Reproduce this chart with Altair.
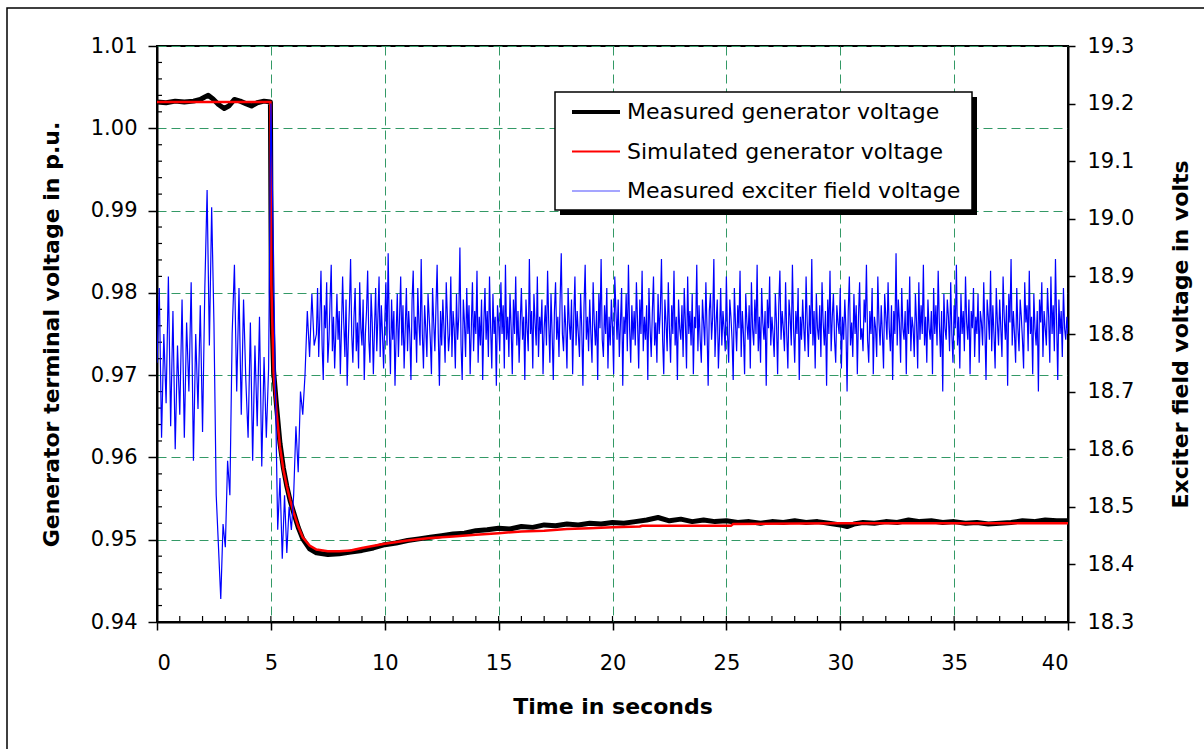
import altair as alt
import pandas as pd

# ---------------- data ----------------
# Measured generator terminal voltage (p.u.)
meas_t = [0, 0.4, 0.8, 1.2, 1.6, 1.9, 2.1, 2.25, 2.45, 2.7, 2.95, 3.15, 3.4, 3.65, 3.9, 4.15, 4.4, 4.7, 4.98,
          5.02, 5.12, 5.25, 5.4, 5.55, 5.7, 5.85, 6.0, 6.2, 6.4, 6.7,
          7.0, 7.5, 8.0, 8.5, 9.0, 9.5, 10.0, 10.5, 11.0, 11.5, 12.0, 12.5, 13.0, 13.5, 14.0, 14.5,
          15.0, 15.5, 16.0, 16.5, 17.0, 17.5, 18.0, 18.5, 19.0, 19.5, 20.0, 20.5, 21.0, 21.5, 22.0,
          22.5, 23.0, 23.5, 24.0, 24.5, 25.0, 25.5, 26.0, 26.5, 27.0, 27.5, 28.0, 28.5, 29.0, 29.5,
          30.0, 30.3, 30.6, 31.0, 31.5, 32.0, 32.5, 33.0, 33.5, 34.0, 34.5, 35.0, 35.5, 36.0, 36.5,
          37.0, 37.5, 38.0, 38.5, 39.0, 39.5, 40.0]
meas_v = [1.0032, 1.0031, 1.0033, 1.0032, 1.0033, 1.0035, 1.0038, 1.0040, 1.0036, 1.0029, 1.0024, 1.0027,
          1.0035, 1.0033, 1.0030, 1.0027, 1.0031, 1.0033, 1.0032,
          0.9800, 0.9705, 0.9662, 0.9617, 0.9587, 0.9565, 0.9547, 0.9533, 0.9515, 0.9501, 0.9489,
          0.9484, 0.9482, 0.9483, 0.9485, 0.9487, 0.9490, 0.9494, 0.9496, 0.9499, 0.9501, 0.9503, 0.9505,
          0.9507, 0.9508, 0.9511, 0.9512, 0.9514, 0.9513, 0.9516, 0.9515, 0.9518, 0.9517, 0.9519, 0.9518,
          0.9520, 0.9519, 0.9521, 0.9520, 0.9522, 0.9524, 0.9527, 0.9523, 0.9525, 0.9522, 0.9524, 0.9522,
          0.9523, 0.9521, 0.9522, 0.9520, 0.9522, 0.9521, 0.9523, 0.9521, 0.9522, 0.9520, 0.9518, 0.9516,
          0.9519, 0.9521, 0.9520, 0.9522, 0.9521, 0.9524, 0.9522, 0.9523, 0.9521, 0.9522, 0.9520, 0.9521,
          0.9519, 0.9520, 0.9521, 0.9523, 0.9522, 0.9524, 0.9523, 0.9523]

# Simulated generator terminal voltage (p.u.)
sim_t = [0, 4.98, 5.02, 5.12, 5.25, 5.4, 5.55, 5.7, 5.85, 6.0, 6.2, 6.4, 6.7, 7.0, 7.5, 8.0, 8.5, 9.0,
         10.0, 11.0, 12.0, 13.0, 14.0, 15.0, 16.0, 17.0, 18.0, 19.0, 20.0, 21.2, 21.3, 25.2, 25.3,
         30.0, 35.0, 40.0]
sim_v = [1.0032, 1.0032, 0.9810, 0.9703, 0.9655, 0.9613, 0.9585, 0.9565, 0.9548, 0.9533, 0.9516, 0.9503,
         0.9493, 0.9488, 0.9486, 0.9486, 0.9487, 0.9490, 0.9495, 0.9499, 0.9502, 0.9504, 0.9506, 0.9508,
         0.9510, 0.9511, 0.9513, 0.9514, 0.9515, 0.9516, 0.9517, 0.9517, 0.9519, 0.9520, 0.9520, 0.9520]

# Measured exciter field voltage (V): every 0.1 s from 0 to 6.9 s ...
EXC_EARLY_START, EXC_EARLY_DT = 0.0, 0.1
exc_early = [
    18.75, 18.88, 18.62, 18.80, 18.68, 18.90, 18.64, 18.84, 18.60, 18.78,
    18.66, 18.86, 18.62, 18.82, 18.70, 18.89, 18.58, 18.80, 18.67, 18.85,
    18.63, 18.88, 19.05, 18.78, 19.02, 18.82, 18.52, 18.43, 18.34, 18.47,
    18.43, 18.58, 18.52, 18.80, 18.92, 18.70, 18.88, 18.66, 18.86, 18.72,
    18.62, 18.82, 18.58, 18.78, 18.64, 18.83, 18.57, 18.76, 18.62, 18.74,
    19.20, 18.98, 18.70, 18.46, 18.55, 18.41, 18.52, 18.42, 18.50, 18.46,
    18.52, 18.64, 18.56, 18.70, 18.66, 18.73, 18.84, 18.76, 18.87, 18.78,
]
# ... and every 0.05 s from 7.0 to 40.0 s
EXC_LATE_START, EXC_LATE_DT = 7.0, 0.05
exc_late = [
    18.80, 18.88, 18.76, 18.83, 18.91, 18.78, 18.72, 18.85, 18.81, 18.89, 18.75, 18.79, 18.86, 18.92, 18.77, 18.83, 18.74, 18.80, 18.87, 18.79,
    18.84, 18.73, 18.81, 18.90, 18.82, 18.76, 18.86, 18.71, 18.79, 18.85, 18.93, 18.80, 18.75, 18.83, 18.88, 18.77, 18.82, 18.74, 18.89, 18.81,
    18.78, 18.86, 18.72, 18.80, 18.84, 18.91, 18.79, 18.75, 18.87, 18.82, 18.73, 18.81, 18.88, 18.77, 18.83, 18.90, 18.76, 18.85, 18.80, 18.74,
    18.82, 18.89, 18.78, 18.94, 18.81, 18.73, 18.86, 18.79, 18.84, 18.71, 18.80, 18.87, 18.76, 18.83, 18.90, 18.78, 18.85, 18.74, 18.81, 18.88,
    18.77, 18.84, 18.80, 18.72, 18.86, 18.91, 18.79, 18.83, 18.75, 18.88, 18.82, 18.78, 18.93, 18.80, 18.74, 18.85, 18.81, 18.76, 18.87, 18.83,
    18.79, 18.73, 18.88, 18.82, 18.77, 18.85, 18.92, 18.80, 18.71, 18.84, 18.78, 18.86, 18.81, 18.75, 18.89, 18.83, 18.77, 18.80, 18.90, 18.76,
    18.84, 18.81, 18.74, 18.87, 18.79, 18.83, 18.95, 18.78, 18.72, 18.86, 18.82, 18.76, 18.88, 18.80, 18.85, 18.73, 18.81, 18.89, 18.77, 18.84,
    18.80, 18.91, 18.75, 18.83, 18.78, 18.86, 18.72, 18.82, 18.88, 18.79, 18.84, 18.76, 18.90, 18.81, 18.74, 18.87, 18.80, 18.83, 18.71, 18.85,
    18.82, 18.77, 18.89, 18.80, 18.85, 18.74, 18.92, 18.79, 18.83, 18.76, 18.87, 18.81, 18.73, 18.86, 18.80, 18.90, 18.78, 18.84, 18.75, 18.82,
    18.88, 18.79, 18.83, 18.72, 18.86, 18.81, 18.77, 18.93, 18.80, 18.84, 18.74, 18.87, 18.82, 18.78, 18.90, 18.76, 18.83, 18.80, 18.86, 18.73,
    18.81, 18.85, 18.78, 18.91, 18.82, 18.75, 18.87, 18.80, 18.72, 18.84, 18.89, 18.79, 18.83, 18.76, 18.86, 18.94, 18.80, 18.77, 18.85, 18.81,
    18.74, 18.88, 18.82, 18.79, 18.86, 18.73, 18.83, 18.90, 18.78, 18.84, 18.80, 18.76, 18.87, 18.81, 18.71, 18.85, 18.92, 18.79, 18.83, 18.77,
    18.86, 18.80, 18.75, 18.89, 18.82, 18.78, 18.84, 18.72, 18.87, 18.81, 18.93, 18.79, 18.76, 18.85, 18.80, 18.88, 18.74, 18.83, 18.78, 18.86,
    18.81, 18.73, 18.90, 18.84, 18.79, 18.86, 18.76, 18.82, 18.88, 18.71, 18.83, 18.80, 18.87, 18.77, 18.92, 18.81, 18.75, 18.85, 18.79, 18.84,
    18.78, 18.89, 18.82, 18.74, 18.86, 18.80, 18.91, 18.77, 18.83, 18.79, 18.85, 18.72, 18.88, 18.81, 18.76, 18.84, 18.90, 18.78, 18.82, 18.75,
    18.87, 18.80, 18.84, 18.93, 18.79, 18.73, 18.86, 18.82, 18.77, 18.89, 18.81, 18.75, 18.85, 18.80, 18.91, 18.78, 18.83, 18.72, 18.86, 18.81,
    18.79, 18.85, 18.76, 18.88, 18.82, 18.74, 18.90, 18.80, 18.84, 18.78, 18.87, 18.73, 18.83, 18.81, 18.92, 18.77, 18.85, 18.79, 18.75, 18.86,
    18.82, 18.78, 18.89, 18.81, 18.71, 18.84, 18.87, 18.79, 18.83, 18.93, 18.76, 18.82, 18.86, 18.74, 18.80, 18.88, 18.78, 18.84, 18.81, 18.77,
    18.90, 18.80, 18.75, 18.86, 18.83, 18.79, 18.72, 18.88, 18.82, 18.77, 18.85, 18.81, 18.91, 18.76, 18.84, 18.80, 18.73, 18.87, 18.82, 18.79,
    18.85, 18.74, 18.89, 18.81, 18.78, 18.86, 18.80, 18.92, 18.77, 18.83, 18.75, 18.88, 18.82, 18.79, 18.84, 18.71, 18.86, 18.81, 18.90, 18.78,
    18.83, 18.80, 18.76, 18.87, 18.82, 18.73, 18.85, 18.91, 18.79, 18.84, 18.81, 18.77, 18.89, 18.80, 18.74, 18.86, 18.83, 18.78, 18.92, 18.81,
    18.75, 18.84, 18.80, 18.88, 18.72, 18.83, 18.79, 18.86, 18.81, 18.77, 18.90, 18.82, 18.76, 18.85, 18.80, 18.93, 18.78, 18.84, 18.74, 18.87,
    18.81, 18.79, 18.85, 18.76, 18.89, 18.82, 18.78, 18.84, 18.71, 18.86, 18.80, 18.91, 18.77, 18.83, 18.87, 18.79, 18.75, 18.85, 18.82, 18.80,
    18.88, 18.74, 18.83, 18.79, 18.86, 18.81, 18.70, 18.84, 18.90, 18.78, 18.82, 18.76, 18.87, 18.80, 18.85, 18.73, 18.83, 18.89, 18.79, 18.81,
    18.77, 18.86, 18.82, 18.92, 18.79, 18.75, 18.84, 18.80, 18.88, 18.73, 18.83, 18.81, 18.76, 18.90, 18.82, 18.78, 18.85, 18.80, 18.74, 18.87,
    18.83, 18.79, 18.89, 18.81, 18.77, 18.85, 18.72, 18.84, 18.80, 18.94, 18.78, 18.86, 18.82, 18.75, 18.88, 18.81, 18.79, 18.84, 18.73, 18.86,
    18.80, 18.90, 18.77, 18.83, 18.81, 18.76, 18.87, 18.82, 18.74, 18.89, 18.79, 18.85, 18.80, 18.92, 18.78, 18.83, 18.75, 18.86, 18.81, 18.79,
    18.84, 18.73, 18.88, 18.80, 18.85, 18.78, 18.91, 18.82, 18.76, 18.84, 18.70, 18.87, 18.81, 18.79, 18.86, 18.83, 18.77, 18.89, 18.80, 18.75,
    18.85, 18.81, 18.92, 18.78, 18.83, 18.74, 18.87, 18.80, 18.84, 18.77, 18.90, 18.82, 18.79, 18.86, 18.73, 18.84, 18.81, 18.88, 18.76, 18.83,
    18.80, 18.87, 18.75, 18.84, 18.82, 18.78, 18.89, 18.81, 18.72, 18.86, 18.83, 18.79, 18.91, 18.77, 18.85, 18.80, 18.74, 18.88, 18.82, 18.78,
    18.86, 18.81, 18.76, 18.90, 18.83, 18.79, 18.85, 18.71, 18.87, 18.82, 18.93, 18.78, 18.84, 18.80, 18.75, 18.88, 18.81, 18.77, 18.86, 18.83,
    18.79, 18.74, 18.89, 18.82, 18.85, 18.77, 18.91, 18.80, 18.83, 18.73, 18.87, 18.81, 18.78, 18.84, 18.70, 18.86, 18.82, 18.89, 18.76, 18.84,
    18.81, 18.78, 18.88, 18.83, 18.75, 18.90, 18.80, 18.85, 18.77, 18.93, 18.82, 18.72, 18.86, 18.80, 18.84, 18.76, 18.88, 18.81, 18.79, 18.83,
    18.80,
]

x_ticks = [0, 5, 10, 15, 20, 25, 30, 35, 40]
left_ticks = [0.94, 0.95, 0.96, 0.97, 0.98, 0.99, 1.00, 1.01]
right_ticks = [18.3, 18.4, 18.5, 18.6, 18.7, 18.8, 18.9, 19.0, 19.1, 19.2, 19.3]
left_minor = [round(0.94 + 0.002 * i, 3) for i in range(36) if i % 5 != 0]
x_minor = list(range(0, 41))

legend_labels = ["Measured generator voltage", "Simulated generator voltage", "Measured exciter field voltage"]
legend_colors = ["#000000", "#ff0000", "#4d4dff"]
legend_widths = [4, 2, 1.2]

# ---------------- frames ----------------
df_meas = pd.DataFrame({"t": meas_t, "v": meas_v})
df_sim = pd.DataFrame({"t": sim_t, "v": sim_v})
exc_t = ([round(EXC_EARLY_START + i * EXC_EARLY_DT, 3) for i in range(len(exc_early))] +
         [round(EXC_LATE_START + i * EXC_LATE_DT, 3) for i in range(len(exc_late))])
df_exc = pd.DataFrame({"t": exc_t, "e": exc_early + exc_late})
df_lminor = pd.DataFrame({"v": left_minor})
df_xminor = pd.DataFrame({"t": x_minor})
one = pd.DataFrame({"k": [0]})

FONT = "DejaVu Sans"
GRID = "#339966"
W, H = 911, 576

x_axis = alt.Axis(values=x_ticks, format="d", title="Time in seconds", grid=True,
                  gridColor=GRID, gridDash=[9, 5], gridWidth=1,
                  tickSize=8, tickColor="black", tickWidth=1.5,
                  domainColor="black", domainWidth=2,
                  labelPadding=22, labelFontSize=21, labelFont=FONT, labelColor="black",
                  titleFont=FONT, titleFontSize=22, titleFontWeight="bold", titleColor="black",
                  titleX=W / 2, titleY=84, titleBaseline="middle", titleAlign="center")
x_scale = alt.Scale(domain=[0, 40], nice=False, zero=False)


def xenc():
    return alt.X("t:Q", scale=x_scale, axis=x_axis)


left_axis = alt.Axis(values=left_ticks, format=".2f", orient="left",
                     title="Generator terminal voltage in p.u.", grid=True,
                     gridColor=GRID, gridDash=[9, 5], gridWidth=1,
                     tickSize=9, tickColor="black", tickWidth=1.5,
                     domainColor="black", domainWidth=2,
                     labelPadding=11, labelFontSize=21, labelFont=FONT, labelColor="black",
                     titleFont=FONT, titleFontSize=22, titleFontWeight="bold", titleColor="black",
                     titleAngle=270, titleX=-106, titleY=H / 2, titleBaseline="middle", titleAlign="center")
left_scale = alt.Scale(domain=[0.94, 1.01], nice=False, zero=False)


def yleft():
    return alt.Y("v:Q", scale=left_scale, axis=left_axis)


right_axis = alt.Axis(values=right_ticks, format=".1f", orient="right",
                      title="Exciter field voltage in volts", grid=False,
                      tickSize=7, tickColor="black", tickWidth=1.5,
                      domainColor="black", domainWidth=2,
                      labelPadding=12, labelFontSize=21, labelFont=FONT, labelColor="black",
                      titleFont=FONT, titleFontSize=22, titleFontWeight="bold", titleColor="black",
                      titleAngle=270, titleX=112, titleY=H / 2, titleBaseline="middle", titleAlign="center")

meas = alt.Chart(df_meas).mark_line(color="black", strokeWidth=5, strokeCap="round",
                                    strokeJoin="round", clip=True).encode(x=xenc(), y=yleft())
sim = alt.Chart(df_sim).mark_line(color="#ff0000", strokeWidth=2.5, clip=True).encode(x=xenc(), y=yleft())
lminor = alt.Chart(df_lminor).mark_rule(color="black", strokeWidth=1.2).encode(
    y=yleft(), x=alt.value(0), x2=alt.value(5))

inner = alt.layer(meas, sim, lminor)

exc = alt.Chart(df_exc).mark_line(color="#0000ff", strokeWidth=1.2, clip=True).encode(
    x=xenc(),
    y=alt.Y("e:Q", scale=alt.Scale(domain=[18.3, 19.3], nice=False, zero=False), axis=right_axis))

xminor = alt.Chart(df_xminor).mark_rule(color="black", strokeWidth=1.2).encode(
    x=xenc(), y=alt.value(H), y2=alt.value(H - 6))

# outer chart border
border = alt.Chart(one).mark_rect(fillOpacity=0, stroke="black", strokeWidth=1.5).encode(
    x=alt.value(-150), x2=alt.value(1100), y=alt.value(-38), y2=alt.value(760))

# legend box with shadow
LX0, LX1, LY0, LY1 = 398, 815, 46, 164
shadow = alt.Chart(one).mark_rect(color="black").encode(
    x=alt.value(LX0 + 5), x2=alt.value(LX1 + 5), y=alt.value(LY0 + 5), y2=alt.value(LY1 + 5))
box = alt.Chart(one).mark_rect(fill="white", stroke="black", strokeWidth=1.5).encode(
    x=alt.value(LX0), x2=alt.value(LX1), y=alt.value(LY0), y2=alt.value(LY1))

legend_layers = [shadow, box]
for i, (lab, col, wd) in enumerate(zip(legend_labels, legend_colors, legend_widths)):
    yy = 66 + i * 39.5
    legend_layers.append(
        alt.Chart(one).mark_rule(color=col, strokeWidth=wd).encode(
            x=alt.value(415), x2=alt.value(463), y=alt.value(yy)))
    legend_layers.append(
        alt.Chart(one).mark_text(text=lab, font=FONT, fontSize=22, align="left",
                                 baseline="middle", color="black").encode(
            x=alt.value(470), y=alt.value(yy)))

chart = alt.layer(border, inner, exc, xminor, *legend_layers).resolve_scale(
    y="independent"
).properties(
    width=W, height=H,
    padding={"left": 157, "top": 46, "right": 136, "bottom": 127},
    autosize=alt.AutoSizeParams(type="none"),
    background="white",
).configure_view(stroke="black", strokeWidth=2)

chart.save("out.html", embed_options={"renderer": "svg", "actions": False})
